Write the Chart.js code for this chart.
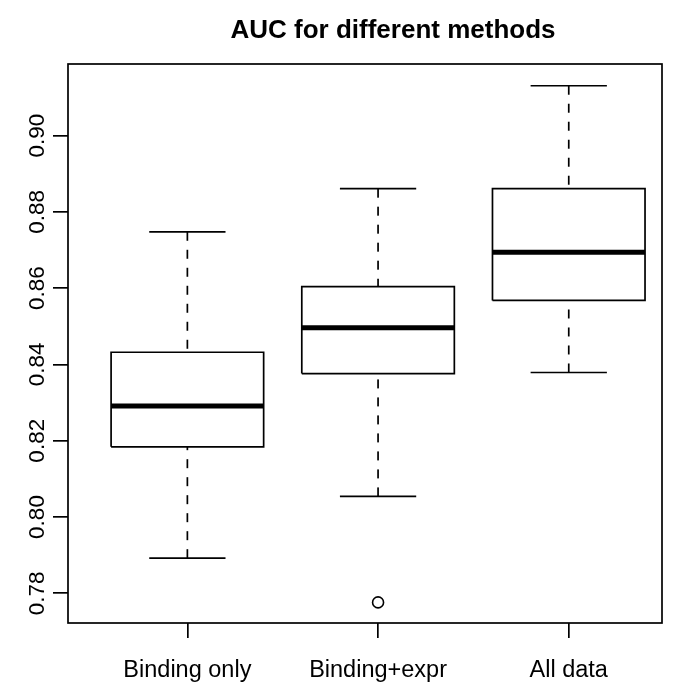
<!DOCTYPE html>
<html>
<head>
<meta charset="utf-8">
<script src="https://cdn.jsdelivr.net/npm/chart.js@4.4.1/dist/chart.umd.min.js"></script>
<style>
  html, body { margin: 0; padding: 0; background: #ffffff; }
  #wrap { width: 677px; height: 690px; }
</style>
</head>
<body>
<div id="wrap"><canvas id="chartAUC" width="677" height="690"></canvas></div>
<script>
// datos (estadisticos del boxplot)
const categories = ['Binding only', 'Binding+expr', 'All data'];
const whiskerLow = [0.7892, 0.8054, 0.8379];
const q1Values = [0.8184, 0.8376, 0.8568];
const medians = [0.8291, 0.8496, 0.8694];
const q3Values = [0.8432, 0.8604, 0.8861];
const whiskerHigh = [0.8748, 0.8861, 0.9131];
const outliers = [[], [0.7776], []];
const yTicks = [0.78, 0.80, 0.82, 0.84, 0.86, 0.88, 0.90];
const titleText = 'AUC for different methods';

const FONT = "'Liberation Sans', Arial, Helvetica, sans-serif";
const BOX_HALF = 0.4;    // boxwex 0.8
const CAP_HALF = 0.2;    // staplewex 0.5
const LW = 1.7;

function lineSet(points, width, dash) {
  return {
    data: points,
    showLine: true,
    borderColor: '#000000',
    borderWidth: width,
    borderDash: dash || [],
    borderCapStyle: 'butt',
    borderJoinStyle: 'miter',
    pointRadius: 0,
    fill: false,
    tension: 0
  };
}

const datasets = [];
categories.forEach(function(name, i) {
  const x = i + 1;
  // caja
  datasets.push(lineSet([
    {x: x - BOX_HALF, y: q1Values[i]}, {x: x + BOX_HALF, y: q1Values[i]},
    {x: x + BOX_HALF, y: q3Values[i]}, {x: x - BOX_HALF, y: q3Values[i]},
    {x: x - BOX_HALF, y: q1Values[i]}
  ], LW));
  // bigotes (desde el extremo hacia la caja, como en R)
  datasets.push(lineSet([{x: x, y: whiskerHigh[i]}, {x: x, y: q3Values[i]}], LW, [9, 9]));
  datasets.push(lineSet([{x: x, y: whiskerLow[i]}, {x: x, y: q1Values[i]}], LW, [9, 9]));
  // topes
  datasets.push(lineSet([{x: x - CAP_HALF, y: whiskerHigh[i]}, {x: x + CAP_HALF, y: whiskerHigh[i]}], LW));
  datasets.push(lineSet([{x: x - CAP_HALF, y: whiskerLow[i]}, {x: x + CAP_HALF, y: whiskerLow[i]}], LW));
  // mediana
  datasets.push(lineSet([{x: x - BOX_HALF, y: medians[i]}, {x: x + BOX_HALF, y: medians[i]}], 5));
  // atipicos
  if (outliers[i].length) {
    datasets.push({
      data: outliers[i].map(v => ({x: x, y: v})),
      showLine: false,
      pointRadius: 5.5,
      pointBorderWidth: 1.6,
      pointBorderColor: '#000000',
      pointBackgroundColor: '#ffffff'
    });
  }
});

// marco del grafico y titulo (el titulo de R va algo desplazado a la derecha)
const frame = {
  id: 'frame',
  afterDraw(chart) {
    const a = chart.chartArea;
    const ctx = chart.ctx;
    ctx.save();
    ctx.strokeStyle = '#000000';
    ctx.lineWidth = LW;
    ctx.strokeRect(a.left, a.top, a.right - a.left, a.bottom - a.top);
    ctx.fillStyle = '#000000';
    ctx.font = 'bold 26px ' + FONT;
    ctx.textAlign = 'center';
    ctx.textBaseline = 'middle';
    ctx.fillText(titleText, 393, 31);
    ctx.restore();
  }
};

new Chart(document.getElementById('chartAUC').getContext('2d'), {
  type: 'scatter',
  data: { datasets: datasets },
  plugins: [frame],
  options: {
    responsive: false,
    animation: false,
    layout: { padding: { left: 0, right: 15, top: 64, bottom: 0 } },
    plugins: {
      legend: { display: false },
      tooltip: { enabled: false },
      title: { display: false }
    },
    scales: {
      x: {
        type: 'linear',
        min: 0.374,
        max: 3.489,
        afterBuildTicks: function(scale) {
          scale.ticks = categories.map((c, i) => ({ value: i + 1 }));
        },
        afterFit: function(scale) { scale.height = 67; },
        border: { display: false },
        grid: { drawOnChartArea: false, drawTicks: true, tickLength: 15, tickColor: '#000000', lineWidth: LW },
        ticks: {
          color: '#000000',
          font: { family: FONT, size: 23.5 },
          padding: 18,
          maxRotation: 0,
          autoSkip: false,
          callback: function(value) { return categories[Math.round(value) - 1]; }
        }
      },
      y: {
        type: 'linear',
        min: 0.7722,
        max: 0.9188,
        afterBuildTicks: function(scale) {
          scale.ticks = yTicks.map(v => ({ value: v }));
        },
        afterFit: function(scale) { scale.width = 68; },
        border: { display: false },
        grid: { drawOnChartArea: false, drawTicks: true, tickLength: 15, tickColor: '#000000', lineWidth: LW },
        ticks: {
          color: '#000000',
          font: { family: FONT, size: 22.5 },
          minRotation: 90,
          maxRotation: 90,
          crossAlign: 'center',
          padding: -7,
          callback: function(value) { return value.toFixed(2); }
        }
      }
    }
  }
});
</script>
</body>
</html>
